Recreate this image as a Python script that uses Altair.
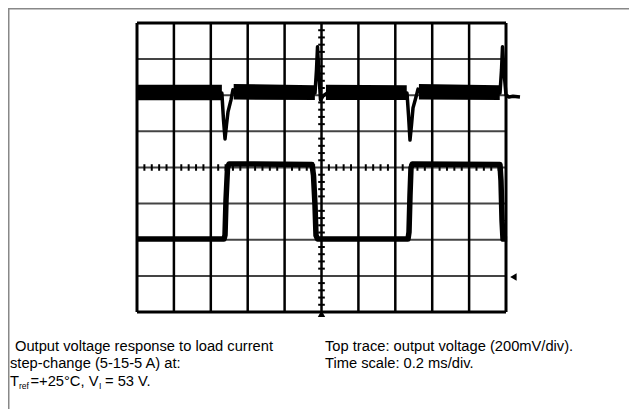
import altair as alt
import pandas as pd

# ---- time axis in divisions (0.2 ms/div), amplitude in divisions (centre = 0) ----
grid_x = [0, 1, 2, 3, 4, 5, 6, 7, 8, 9, 10]
grid_y = [-4, -3, -2, -1, 0, 1, 2, 3, 4]

# top trace: output voltage (200 mV/div)
v_t = [0.0, 2.30, 2.344, 2.385, 2.425, 2.466, 2.547, 2.60, 2.68, 4.824, 4.864, 4.892, 4.932,
       4.973, 5.041, 5.149, 7.317, 7.358, 7.398, 7.439, 7.480, 7.561, 7.615, 7.696, 9.837,
       9.878, 9.905, 9.946, 10.0, 10.081, 10.19, 10.379]
v_y = [2.06, 2.06, 1.32, 0.79, 1.18, 1.54, 1.87, 2.15, 2.06, 2.06, 2.70, 3.34, 2.56,
       1.87, 1.98, 2.06, 2.06, 1.45, 0.76, 1.18, 1.65, 1.95, 2.17, 2.06, 2.06,
       2.70, 3.34, 2.64, 2.01, 1.95, 1.97, 1.95]

# noise envelope of the voltage trace
band_seg = ["a", "a", "b", "b", "c", "c", "d", "d"]
band_t = [0.0, 2.30, 2.62, 4.82, 5.12, 7.31, 7.64, 9.83]
band_hi = [2.29, 2.29, 2.31, 2.28, 2.29, 2.28, 2.31, 2.28]
band_lo = [1.86, 1.86, 1.88, 1.87, 1.87, 1.87, 1.88, 1.87]

# bottom trace: load current step 5-15-5 A
i_t = [0.0, 2.358, 2.385, 2.412, 2.453, 2.493, 4.743, 4.783, 4.824, 4.851, 4.892,
       7.344, 7.371, 7.398, 7.425, 7.46, 9.837, 9.864, 9.892, 9.919, 10.03]
i_y = [-1.98, -1.98, -1.87, -0.90, -0.01, 0.10, 0.08, -0.22, -1.05, -1.88, -1.98,
       -1.98, -1.79, -0.77, -0.01, 0.10, 0.08, -0.36, -1.46, -1.98, -1.98]

caption_left = ["Output voltage response to load current", "step-change (5-15-5 A) at:"]
caption_right = ["Top trace: output voltage (200mV/div).", "Time scale: 0.2 ms/div."]

# ---- scales: division units mapped so the graticule sits where the scope screen is ----
W, H = 621, 401
xs = alt.Scale(domain=[-3.496, 13.333], nice=False, zero=False)
ys = alt.Scale(domain=[-6.685, 4.415], nice=False, zero=False)

def X(f):
    return alt.X(f, type="quantitative", scale=xs, axis=None)

def Y(f):
    return alt.Y(f, type="quantitative", scale=ys, axis=None)

hgrid = pd.DataFrame({"y": grid_y, "x0": 0, "x1": 10})
vgrid = pd.DataFrame({"x": grid_x, "y0": -4, "y1": 4})

h_lines = alt.Chart(hgrid[(hgrid.y > -4) & (hgrid.y < 4)]).mark_rule(color="#444444", strokeWidth=2).encode(
    y=Y("y"), x=X("x0"), x2="x1")
v_lines = alt.Chart(vgrid[(vgrid.x > 0) & (vgrid.x < 10)]).mark_rule(color="black", strokeWidth=2.5).encode(
    x=X("x"), y=Y("y0"), y2="y1")
h_border = alt.Chart(hgrid[hgrid.y.abs() == 4]).mark_rule(color="black", strokeWidth=3).encode(
    y=Y("y"), x=X("x0"), x2="x1")
v_border = alt.Chart(vgrid[vgrid.x.isin([0, 10])]).mark_rule(color="black", strokeWidth=3).encode(
    x=X("x"), y=Y("y0"), y2="y1")

# minor ticks on the centre axes (5 per division)
tx = [k / 5 for k in range(1, 50) if k % 5]
ty = [k / 5 - 4 for k in range(1, 40) if k % 5]
tick_h = pd.DataFrame({"x": tx, "y0": -0.09, "y1": 0.09})
tick_v = pd.DataFrame({"y": ty, "x0": 4.91, "x1": 5.09})
ticks_h = alt.Chart(tick_h).mark_rule(color="black", strokeWidth=2).encode(x=X("x"), y=Y("y0"), y2="y1")
ticks_v = alt.Chart(tick_v).mark_rule(color="black", strokeWidth=2).encode(y=Y("y"), x=X("x0"), x2="x1")

band_df = pd.DataFrame({"seg": band_seg, "t": band_t, "hi": band_hi, "lo": band_lo})
band = alt.Chart(band_df).mark_area(color="black", opacity=1).encode(
    x=X("t"), y=Y("hi"), y2="lo", detail="seg:N")

vdf = pd.DataFrame({"t": v_t, "v": v_y, "o": range(len(v_t))})
vline = alt.Chart(vdf).mark_line(color="black", strokeWidth=3.5, strokeJoin="round").encode(
    x=X("t"), y=Y("v"), order="o:Q")

idf = pd.DataFrame({"t": i_t, "i": i_y, "o": range(len(i_t))})
iline = alt.Chart(idf).mark_line(color="black", strokeWidth=5.5, strokeJoin="round").encode(
    x=X("t"), y=Y("i"), order="o:Q")

markers = pd.DataFrame({"x": [5.0, 10.2], "y": [-4.05, -3.03], "s": ["triangle-up", "triangle-left"]})
mk = alt.Chart(markers).mark_point(filled=True, color="black", size=55, opacity=1).encode(
    x=X("x"), y=Y("y"), shape=alt.Shape("s:N", scale=None, legend=None))

# frame lines of the figure box
frame_top = alt.Chart(pd.DataFrame({"a": [0]})).mark_rule(color="#888888", strokeWidth=1.5).encode(
    x=alt.value(0), x2=alt.value(W), y=alt.value(0.75))
frame_left = alt.Chart(pd.DataFrame({"a": [0]})).mark_rule(color="#888888", strokeWidth=1.5).encode(
    x=alt.value(0.75), y=alt.value(0), y2=alt.value(H))

F = 14.7
tx_list = [7, 2, 317, 317]
ty_list = [339, 356, 339, 356]
txt_df = pd.DataFrame({"text": caption_left + caption_right, "x": tx_list, "y": ty_list})
captions = alt.Chart(txt_df).mark_text(align="left", baseline="middle", fontSize=F,
                                       font="Liberation Sans", color="black").encode(
    x=alt.X("x:Q", scale=None), y=alt.Y("y:Q", scale=None), text="text:N")

l3_main = pd.DataFrame({"text": ["T", "=+25°C, V", "= 53 V."], "x": [2, 22.5, 97], "y": [374, 374, 374]})
l3_sub = pd.DataFrame({"text": ["ref", "I"], "x": [11, 91], "y": [378, 378]})
line3 = alt.Chart(l3_main).mark_text(align="left", baseline="middle", fontSize=F,
                                     font="Liberation Sans", color="black").encode(
    x=alt.X("x:Q", scale=None), y=alt.Y("y:Q", scale=None), text="text:N")
line3s = alt.Chart(l3_sub).mark_text(align="left", baseline="middle", fontSize=8.5,
                                     font="Liberation Sans", color="black").encode(
    x=alt.X("x:Q", scale=None), y=alt.Y("y:Q", scale=None), text="text:N")

chart = alt.layer(
    frame_top, frame_left, h_lines, v_lines, ticks_h, ticks_v, h_border, v_border,
    band, vline, iline, mk, captions, line3, line3s
).properties(
    width=W, height=H, autosize=alt.AutoSizeParams(type="none"), padding=0
).configure_view(stroke=None).configure(background="white")

chart.save("out.html", embed_options={"renderer": "svg", "actions": False})
